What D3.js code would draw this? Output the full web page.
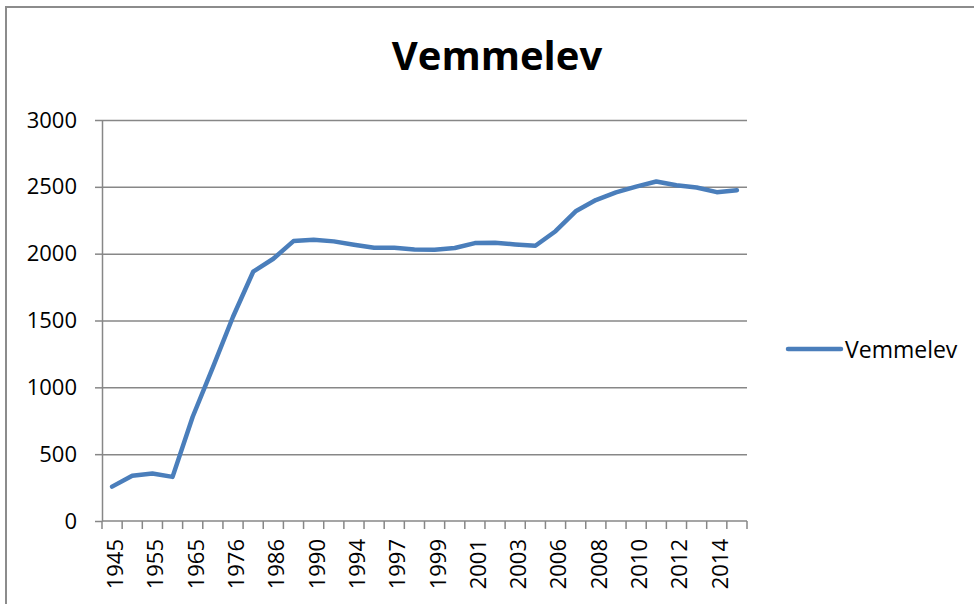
<!DOCTYPE html>
<html>
<head>
<meta charset="utf-8">
<script src="https://cdn.jsdelivr.net/npm/d3@7"></script>
<style>
  body { margin: 0; background: #fff; }
  svg { display: block; font-family: "Open Sans", sans-serif; }
</style>
</head>
<body>
<svg id="chart" width="974" height="604"></svg>
<script>
//Chart data
var years = ["1945", "1950", "1955", "1960", "1965", "1970", "1976", "1981", "1986", "1988",
    "1990", "1992", "1994", "1996", "1997", "1998", "1999", "2000", "2001", "2002",
    "2003", "2004", "2006", "2007", "2008", "2009", "2010", "2011", "2012", "2013",
    "2014", "2015"];
var population = [257, 339, 355, 330, 780, 1150, 1528, 1865, 1962, 2094,
    2104, 2092, 2067, 2045, 2045, 2032, 2030, 2042, 2079, 2082,
    2069, 2059, 2168, 2317, 2401, 2458, 2502, 2540, 2512, 2495,
    2460, 2475];
var yTicks = [0, 500, 1000, 1500, 2000, 2500, 3000];
var seriesName = "Vemmelev";

var svg = d3.select("#chart");
//Plot area edges
var plotLeft = 102, plotRight = 747, plotTop = 120, plotBottom = 521;
var gridColor = "#878787";
var lineColor = "#4a7ebb";

//Outer chart frame (runs off the right and bottom edge)
svg.append("rect")
    .attr("x", 6).attr("y", 7)
    .attr("width", 1000).attr("height", 700)
    .attr("fill", "none")
    .attr("stroke", "#8c8c8c")
    .attr("stroke-width", 2);

//Scales
var x = d3.scaleBand()
    .domain(years)
    .range([plotLeft, plotRight])
    .padding(0);

var y = d3.scaleLinear()
    .domain([0, 3000])
    .range([plotBottom, plotTop]);

//Horizontal gridlines
svg.append("g")
    .attr("transform", "translate(" + plotLeft + ",0)")
    .call(d3.axisLeft(y).tickValues(yTicks.slice(1)).tickSize(-(plotRight - plotLeft)).tickFormat(""))
    .call(function (g) { g.select(".domain").remove(); })
    .selectAll("line")
    .attr("stroke", gridColor)
    .attr("stroke-width", 1.5);

//Y axis with labels
var yAxis = svg.append("g")
    .attr("transform", "translate(" + plotLeft + ",0)")
    .call(d3.axisLeft(y).tickValues(yTicks).tickSize(7).tickPadding(18).tickSizeOuter(0).tickFormat(d3.format("d")));
yAxis.select(".domain").attr("stroke", gridColor).attr("stroke-width", 1.5);
yAxis.selectAll("line").attr("stroke", gridColor).attr("stroke-width", 1.5);
yAxis.selectAll("text")
    .attr("font-size", 22)
    .attr("font-family", "Open Sans")
    .attr("fill", "#000");

//X axis line and band boundary ticks
var xAxis = svg.append("g")
    .attr("transform", "translate(0," + plotBottom + ")");

xAxis.append("line")
    .attr("x1", plotLeft).attr("x2", plotRight)
    .attr("stroke", gridColor).attr("stroke-width", 1.5);

var boundaries = years.map(function (d) { return x(d); }).concat([x.range()[1]]);
xAxis.selectAll(".btick")
    .data(boundaries)
    .enter().append("line")
    .attr("class", "btick")
    .attr("x1", function (d) { return d; })
    .attr("x2", function (d) { return d; })
    .attr("y1", 0).attr("y2", 8)
    .attr("stroke", gridColor).attr("stroke-width", 1.5);

//X labels, every other category, rotated
var labelAxis = svg.append("g")
    .attr("transform", "translate(0," + plotBottom + ")")
    .call(d3.axisBottom(x).tickValues(years.filter(function (d, i) { return i % 2 === 0; })).tickSize(0));
labelAxis.select(".domain").remove();
labelAxis.selectAll("text")
    .attr("font-size", 22)
    .attr("font-family", "Open Sans")
    .attr("fill", "#000")
    .attr("transform", "rotate(-90)")
    .attr("text-anchor", "end")
    .attr("dy", "0.36em")
    .attr("x", -18)
    .attr("y", 3);

//Data line
var line = d3.line()
    .x(function (d, i) { return x(years[i]) + x.bandwidth() / 2; })
    .y(function (d) { return y(d); });

svg.append("path")
    .datum(population)
    .attr("d", line)
    .attr("fill", "none")
    .attr("stroke", lineColor)
    .attr("stroke-width", 4.5)
    .attr("stroke-linejoin", "round")
    .attr("stroke-linecap", "round");

//Title
svg.append("text")
    .attr("x", 497).attr("y", 70)
    .attr("text-anchor", "middle")
    .attr("font-size", 40)
    .attr("font-weight", "bold")
    .attr("fill", "#000")
    .text(seriesName);

//Legend
svg.append("line")
    .attr("x1", 788).attr("x2", 841)
    .attr("y1", 349).attr("y2", 349)
    .attr("stroke", lineColor)
    .attr("stroke-width", 4.5)
    .attr("stroke-linecap", "round");

svg.append("text")
    .attr("x", 845).attr("y", 357.5)
    .attr("font-size", 23)
    .attr("fill", "#000")
    .text(seriesName);
</script>
</body>
</html>
